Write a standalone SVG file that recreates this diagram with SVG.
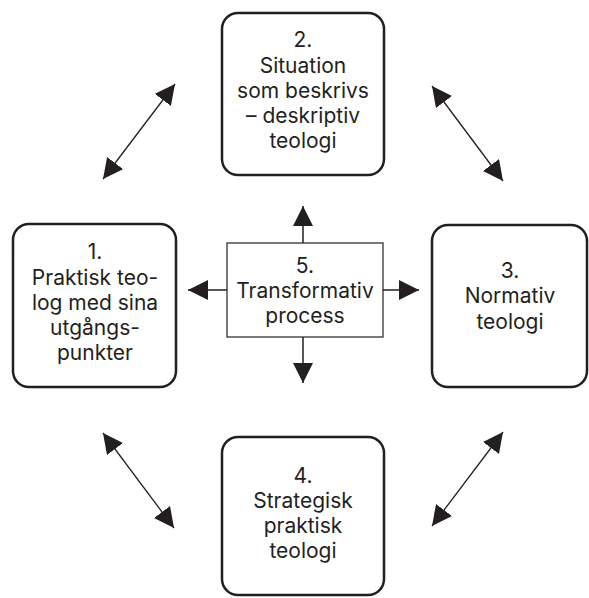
<svg xmlns="http://www.w3.org/2000/svg" width="589" height="598" viewBox="0 0 589 598">
<style>
.box{fill:#fff;stroke:#231f20;stroke-width:2.5}
.cbox{fill:#fff;stroke:#231f20;stroke-width:1.2}
.t{font-family:Inter,"Liberation Sans",sans-serif;font-size:21px;fill:#231f20;text-anchor:middle}
.c{stroke:#231f20;stroke-width:1.3;fill:none;marker-end:url(#ah);marker-start:url(#ah)}
.c1{stroke:#231f20;stroke-width:1.5;fill:none;marker-end:url(#ah)}
</style>
<defs>
<marker id="ah" viewBox="0 0 20 20" refX="20" refY="10" markerWidth="20" markerHeight="20" markerUnits="userSpaceOnUse" orient="auto-start-reverse">
<path d="M0,0 L20,10 L0,20 z" fill="#231f20"/>
</marker>
</defs>
<rect width="589" height="598" fill="#fff"/>
<g id="connectors">
<line class="c" x1="103" y1="179" x2="175" y2="84"/>
<line class="c" x1="432" y1="86" x2="503" y2="181"/>
<line class="c" x1="103" y1="433" x2="174" y2="528"/>
<line class="c" x1="503" y1="432" x2="432" y2="526"/>
<line class="c1" x1="303" y1="243" x2="303" y2="206"/>
<line class="c1" x1="303" y1="337" x2="303" y2="383"/>
<line class="c1" x1="227" y1="290" x2="188" y2="290"/>
<line class="c1" x1="383" y1="290" x2="419" y2="290"/>
</g>
<g id="node2">
<rect class="box" x="222" y="13" width="162" height="162" rx="16"/>
<text class="t" x="303" y="47">2.</text>
<text class="t" x="303" y="73">Situation</text>
<text class="t" x="303" y="98">som beskrivs</text>
<text class="t" x="303" y="123">– deskriptiv</text>
<text class="t" x="303" y="148">teologi</text>
</g>
<g id="node1">
<rect class="box" x="13" y="224" width="163" height="163" rx="16"/>
<text class="t" x="95" y="259">1.</text>
<text class="t" x="95" y="285">Praktisk teo-</text>
<text class="t" x="95" y="310">log med sina</text>
<text class="t" x="95" y="335">utgångs-</text>
<text class="t" x="95" y="360">punkter</text>
</g>
<g id="node3">
<rect class="box" x="432" y="225" width="155" height="162" rx="16"/>
<text class="t" x="510" y="278">3.</text>
<text class="t" x="510" y="303">Normativ</text>
<text class="t" x="510" y="329">teologi</text>
</g>
<g id="node4">
<rect class="box" x="222" y="437" width="162" height="158" rx="16"/>
<text class="t" x="303" y="483">4.</text>
<text class="t" x="303" y="508">Strategisk</text>
<text class="t" x="303" y="533">praktisk</text>
<text class="t" x="303" y="558">teologi</text>
</g>
<g id="node5">
<rect class="cbox" x="227" y="243" width="156" height="94"/>
<text class="t" x="305" y="273">5.</text>
<text class="t" x="305" y="298">Transformativ</text>
<text class="t" x="305" y="323">process</text>
</g>
</svg>
